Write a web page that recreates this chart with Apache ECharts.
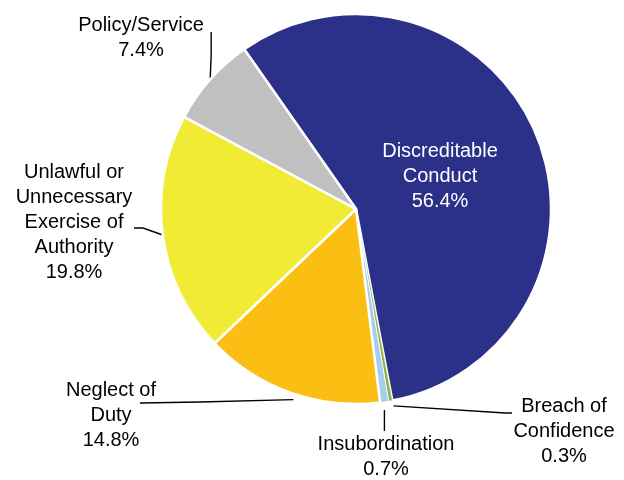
<!DOCTYPE html>
<html>
<head>
<meta charset="utf-8">
<script src="https://cdn.jsdelivr.net/npm/echarts@6/dist/echarts.min.js"></script>
<style>html,body{margin:0;padding:0;background:#fff}#c{width:624px;height:480px}</style>
</head>
<body>
<div id="c"></div>
<script>
const categories = [
  'Discreditable\nConduct',
  'Breach of\nConfidence',
  'Insubordination',
  'Neglect of\nDuty',
  'Unlawful or\nUnnecessary\nExercise of\nAuthority',
  'Policy/Service'
];
const values = [56.4, 0.3, 0.7, 14.8, 19.8, 7.4];
const colors = ['#2b3088', '#8cb34a', '#a6cdeb', '#fbbf13', '#f2eb35', '#c0c0c0'];

// label layout (positions only)
const labelSpots = [
  { x: 440, y: 176 },
  { x: 564, y: 431, line: (s) => [[s[0] + 3, s[1] + 5], [505, 413], [512, 413]] },
  { x: 386, y: 457, line: (s) => [[s[0], s[1] + 8], [s[0], 420], [s[0], 431]] },
  { x: 111, y: 415, line: (s) => [[s[0] + 3, s[1] + 7], [200, 402], [140, 403]] },
  { x: 74, y: 222, line: (s) => [s, [143, 228], [134, 228]] },
  { x: 141, y: 38, line: (s) => [s, [s[0] + 1, 55], [s[0] + 1, 32]] }
];

const data = categories.map((name, i) => {
  const item = { name: name, value: values[i], itemStyle: { color: colors[i] } };
  if (i === 0) {
    item.label = { position: 'inside', color: '#fff' };
    item.labelLine = { show: false };
  }
  if (i === 1) item.itemStyle.borderWidth = 0.5;
  if (i === 2) item.itemStyle.borderWidth = 1;
  return item;
});

const chart = echarts.init(document.getElementById('c'));
chart.setOption({
  animation: false,
  series: [{
    type: 'pie',
    center: [356, 209],
    radius: 195,
    startAngle: 125,
    clockwise: true,
    avoidLabelOverlap: false,
    data: data,
    itemStyle: { borderColor: '#fff', borderWidth: 2.5 },
    label: {
      show: true,
      position: 'outside',
      formatter: (p) => p.name + '\n' + p.value.toFixed(1) + '%',
      fontFamily: 'Liberation Sans, Arial, sans-serif',
      fontSize: 20,
      lineHeight: 25,
      color: '#000',
      align: 'center'
    },
    labelLine: { show: true, length: 10, length2: 10, lineStyle: { color: '#000', width: 1.4 } },
    labelLayout: function (params) {
      const spot = labelSpots[params.dataIndex];
      const res = { x: spot.x, y: spot.y, align: 'center', verticalAlign: 'middle' };
      if (spot.line && params.labelLinePoints) {
        res.labelLinePoints = spot.line(params.labelLinePoints[0]);
      }
      return res;
    }
  }]
});
</script>
</body>
</html>
